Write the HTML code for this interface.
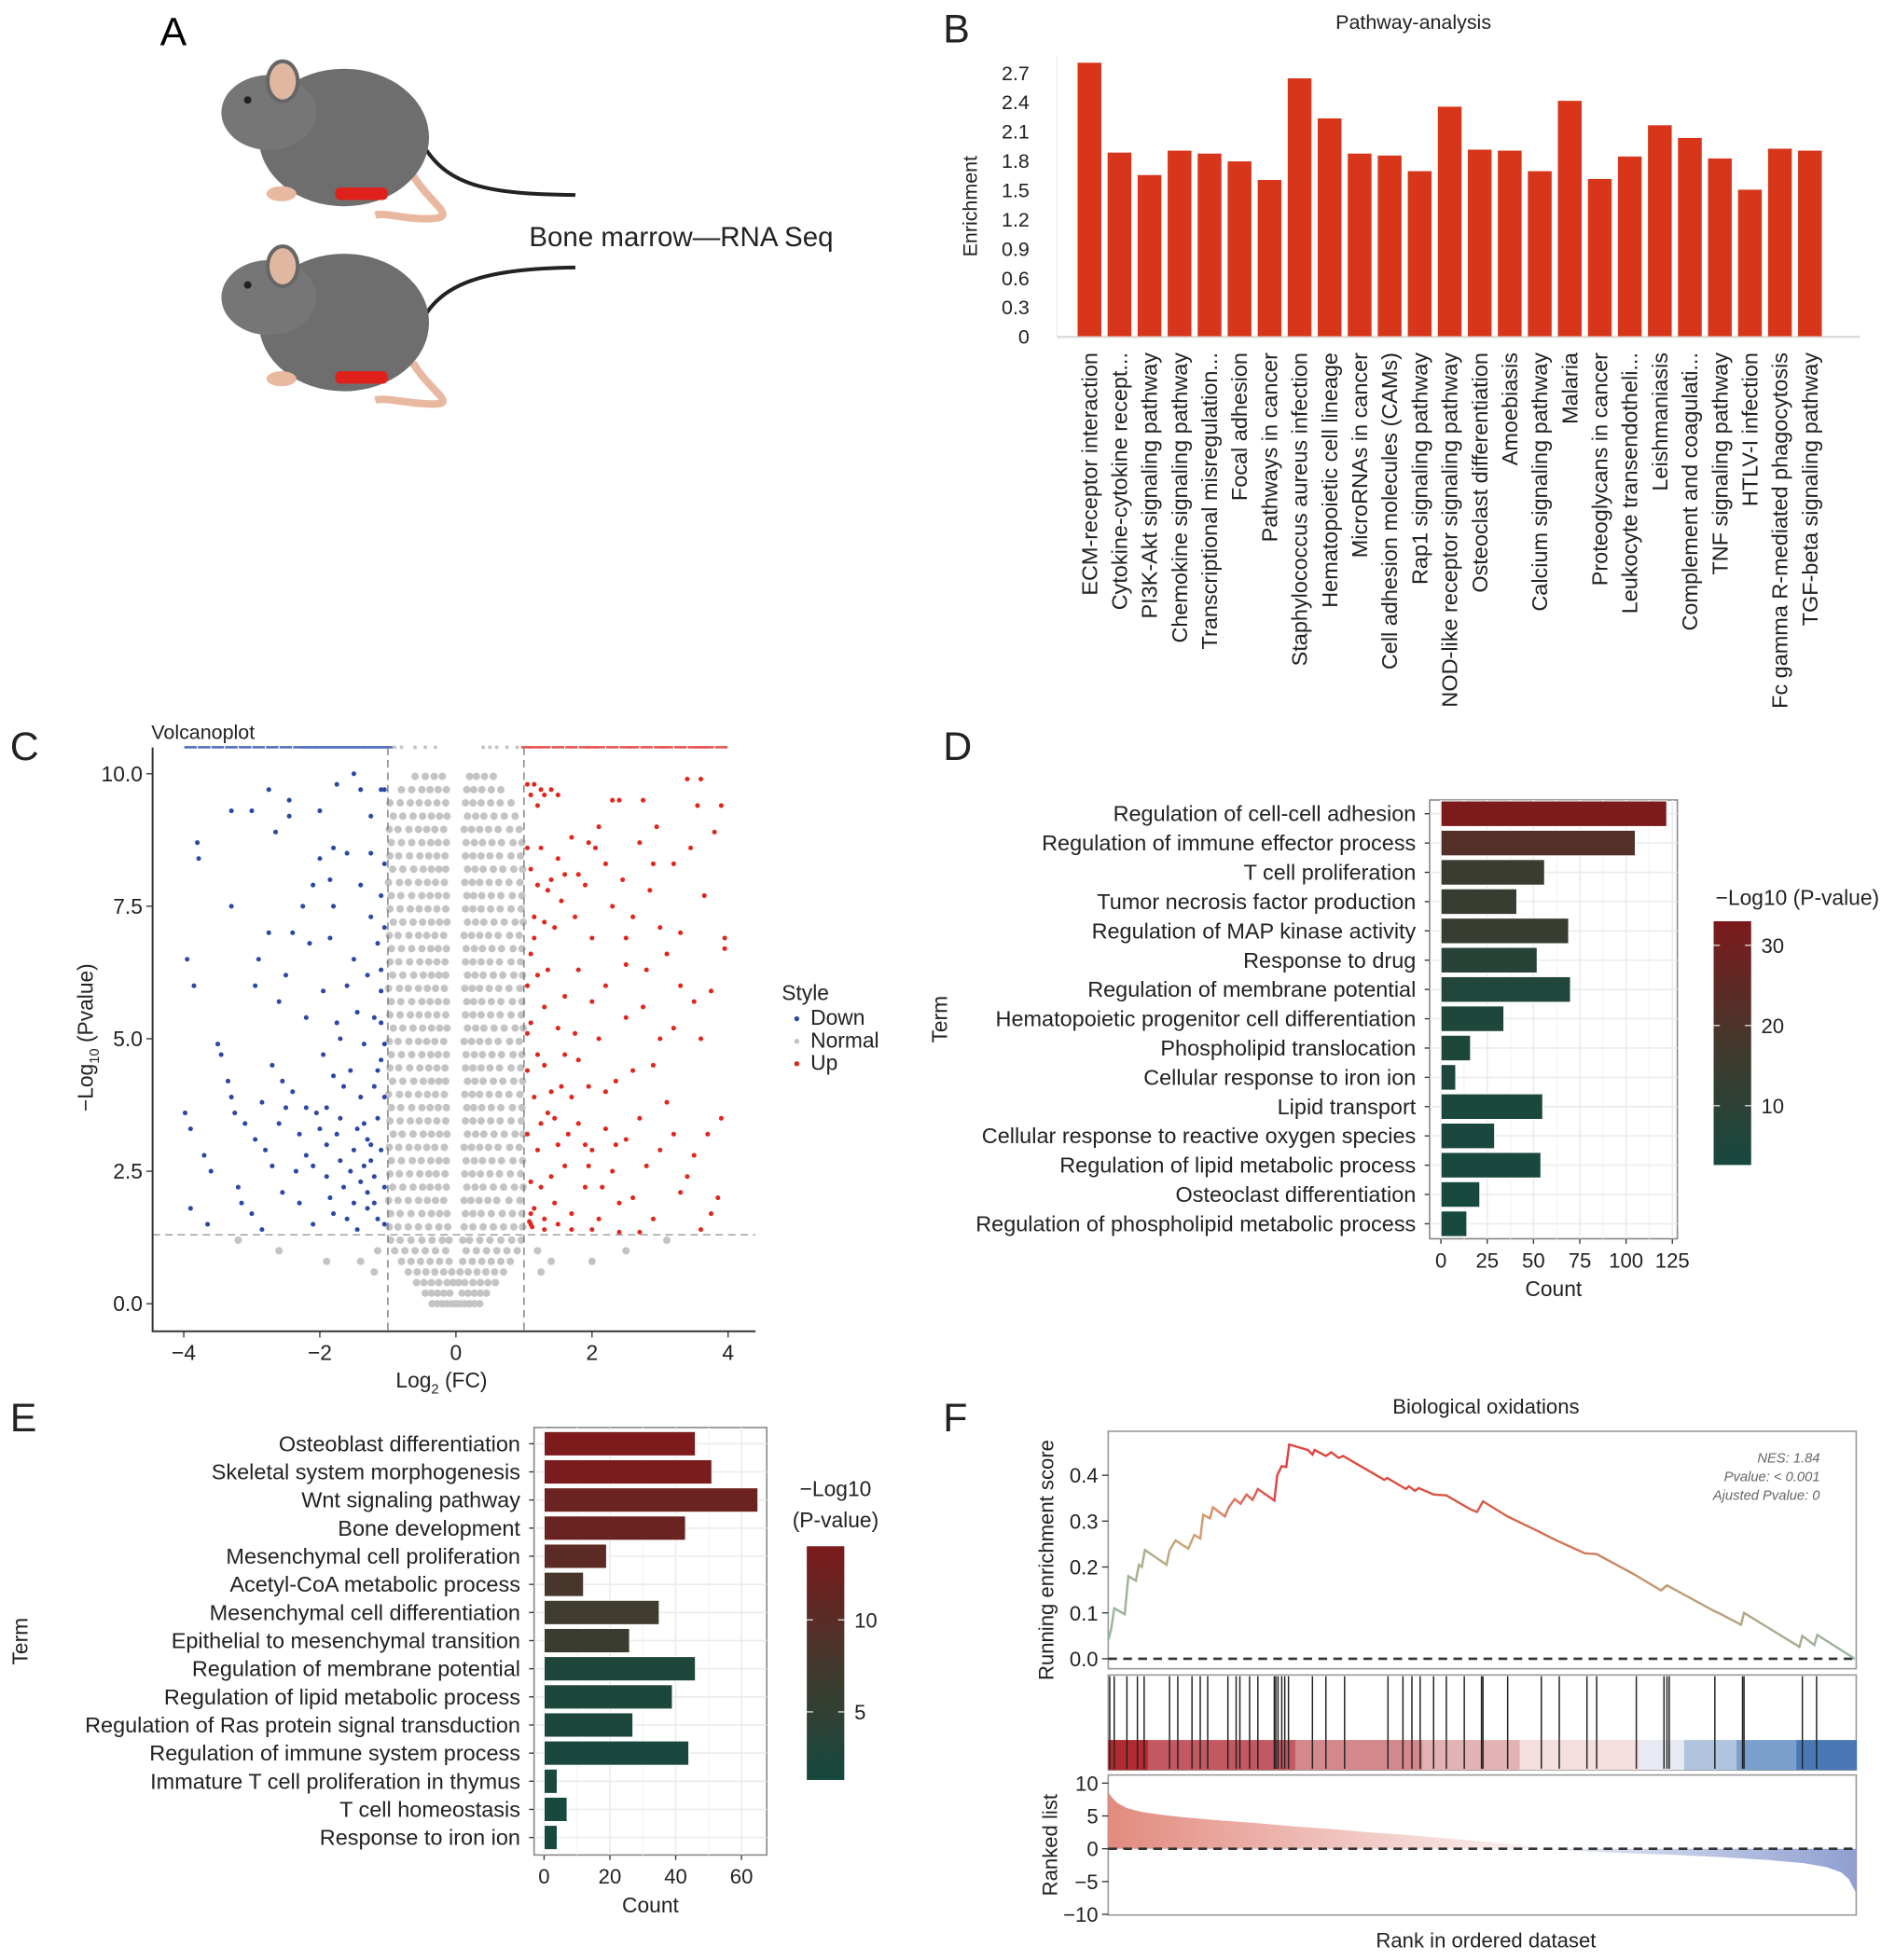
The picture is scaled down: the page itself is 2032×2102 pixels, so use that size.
<!DOCTYPE html>
<html><head><meta charset="utf-8"><style>
html,body{margin:0;padding:0;background:#fff;}
svg{display:block;font-family:"Liberation Sans",Arial,sans-serif;}
</style></head><body>
<svg id="fig" xmlns="http://www.w3.org/2000/svg" width="2032" height="2102" viewBox="0 0 1515 1568" preserveAspectRatio="none">
<defs>
<linearGradient id="cbD" x1="0" y1="1" x2="0" y2="0"><stop offset="0" stop-color="#17493f"/><stop offset="0.45" stop-color="#3f3b2e"/><stop offset="1" stop-color="#7c1a1c"/></linearGradient>
<linearGradient id="cbE" x1="0" y1="1" x2="0" y2="0"><stop offset="0" stop-color="#17493f"/><stop offset="0.45" stop-color="#3f3b2e"/><stop offset="1" stop-color="#7c1a1c"/></linearGradient>
<linearGradient id="esGrad" x1="886" y1="0" x2="1484" y2="0" gradientUnits="userSpaceOnUse"><stop offset="0" stop-color="#8fb89a"/><stop offset="0.12" stop-color="#d1a070"/><stop offset="0.23" stop-color="#e04040"/><stop offset="0.5" stop-color="#d65a45"/><stop offset="0.75" stop-color="#c49a70"/><stop offset="1" stop-color="#95b8a0"/></linearGradient>
<linearGradient id="rankRed" x1="886" y1="0" x2="1210" y2="0" gradientUnits="userSpaceOnUse"><stop offset="0" stop-color="#e28a7e"/><stop offset="1" stop-color="#fbeeee"/></linearGradient>
<linearGradient id="rankBlue" x1="1210" y1="0" x2="1484" y2="0" gradientUnits="userSpaceOnUse"><stop offset="0" stop-color="#f4f5fb"/><stop offset="1" stop-color="#8f9fd0"/></linearGradient>
</defs>

<!-- Panel A -->
<g>
<text x="128" y="36" font-size="32">A</text>
<g>
<path d="M335,110 C355,150 390,155 460,156" fill="none" stroke="#222" stroke-width="3"/>
<path d="M330,140 C345,165 370,175 340,175 C320,175 310,170 300,172" fill="none" stroke="#e8b9a0" stroke-width="6"/>
<ellipse cx="275" cy="110" rx="68" ry="55" fill="#6e6e6e"/>
<ellipse cx="215" cy="90" rx="38" ry="30" fill="#767676"/>
<path d="M180,92 L205,70 L215,100 Z" fill="#767676"/>
<ellipse cx="226" cy="65" rx="12" ry="16" fill="#e0b7a0" stroke="#666" stroke-width="3"/>
<circle cx="198" cy="80" r="3" fill="#222"/>
<rect x="268" y="150" width="42" height="10" rx="4" fill="#e0201a"/>
<ellipse cx="225" cy="155" rx="12" ry="6" fill="#e8b9a0"/>
</g>
<g>
<path d="M335,262 C350,225 390,215 460,214" fill="none" stroke="#222" stroke-width="3"/>
<path d="M330,290 C345,315 370,325 340,323 C320,322 310,318 300,320" fill="none" stroke="#e8b9a0" stroke-width="6"/>
<ellipse cx="275" cy="258" rx="68" ry="55" fill="#6e6e6e"/>
<ellipse cx="215" cy="238" rx="38" ry="30" fill="#767676"/>
<path d="M180,240 L205,218 L215,248 Z" fill="#767676"/>
<ellipse cx="226" cy="213" rx="12" ry="16" fill="#e0b7a0" stroke="#666" stroke-width="3"/>
<circle cx="198" cy="228" r="3" fill="#222"/>
<rect x="268" y="297" width="42" height="10" rx="4" fill="#e0201a"/>
<ellipse cx="225" cy="303" rx="12" ry="6" fill="#e8b9a0"/>
</g>
<text x="423" y="197" font-size="22" fill="#222">Bone marrow—RNA Seq</text>
</g>

<g id="pB"></g>
<g id="pC"></g>
<g id="pD"></g>
<g id="pE"></g>
<g id="pF"></g>
</svg>
<script>
// ===== Panel B data =====
const bCategories = ["ECM-receptor interaction","Cytokine-cytokine recept...","PI3K-Akt signaling pathway","Chemokine signaling pathway","Transcriptional misregulation...","Focal adhesion","Pathways in cancer","Staphylococcus aureus infection","Hematopoietic cell lineage","MicroRNAs in cancer","Cell adhesion molecules (CAMs)","Rap1 signaling pathway","NOD-like receptor signaling pathway","Osteoclast differentiation","Amoebiasis","Calcium signaling pathway","Malaria","Proteoglycans in cancer","Leukocyte transendotheli...","Leishmaniasis","Complement and coagulati...","TNF signaling pathway","HTLV-I infection","Fc gamma R-mediated phagocytosis","TGF-beta signaling pathway"];
const bValues = [2.8,1.88,1.65,1.9,1.87,1.79,1.6,2.64,2.23,1.87,1.85,1.69,2.35,1.91,1.9,1.69,2.41,1.61,1.84,2.16,2.03,1.82,1.5,1.92,1.9];
const bTicks = [0,0.3,0.6,0.9,1.2,1.5,1.8,2.1,2.4,2.7];

// ===== Panel C data =====
const cXTicks = [-4,-2,0,2,4];
const cYTicks = [0,2.5,5,7.5,10];
const downPts = [[-3.95,6.5],[-3.85,6],[-3.8,8.7],[-3.78,8.4],[-3.98,3.6],[-3.9,3.3],[-3.9,1.8],[-3.7,2.8],[-3.65,1.5],[-3.6,2.5],[-3.5,4.9],[-3.45,4.7],[-3.35,4.2],[-3.3,3.9],[-3.3,9.3],[-3.3,7.5],[-3.25,3.6],[-3.2,2.2],[-3.15,1.9],[-3.1,3.4],[-3.0,9.3],[-2.95,6.0],[-2.95,3.1],[-3.0,1.7],[-2.9,6.5],[-2.85,3.8],[-2.85,1.4],[-2.8,2.9],[-2.75,7.0],[-2.75,9.7],[-2.7,4.5],[-2.7,2.6],[-2.65,8.9],[-2.6,5.7],[-2.6,3.4],[-2.55,4.2],[-2.55,2.1],[-2.5,6.2],[-2.5,3.7],[-2.45,9.5],[-2.45,9.2],[-2.4,7.0],[-2.4,4.0],[-2.35,2.5],[-2.3,1.9],[-2.3,3.2],[-2.25,7.5],[-2.2,5.4],[-2.2,3.7],[-2.2,2.8],[-2.15,6.8],[-2.1,7.9],[-2.1,1.5],[-2.05,3.6],[-2.0,8.4],[-2.0,9.3],[-1.95,5.9],[-1.95,4.7],[-1.9,3.0],[-1.9,2.4],[-1.85,8.0],[-1.85,6.9],[-1.8,8.6],[-1.8,7.5],[-1.8,4.3],[-1.8,1.7],[-1.75,9.8],[-1.7,5.0],[-1.7,3.5],[-1.65,2.2],[-1.6,6.0],[-1.6,8.5],[-1.55,4.4],[-1.5,10.0],[-1.5,6.5],[-1.5,2.9],[-1.45,5.5],[-1.45,1.4],[-1.4,7.9],[-1.4,3.9],[-1.4,9.7],[-1.35,4.9],[-1.35,2.6],[-1.3,6.2],[-1.3,3.1],[-1.3,1.8],[-1.25,9.2],[-1.25,8.5],[-1.25,7.3],[-1.2,5.4],[-1.2,4.1],[-1.2,2.4],[-1.15,6.8],[-1.15,3.5],[-1.15,1.6],[-1.1,9.7],[-1.1,7.7],[-1.1,6.3],[-1.1,5.3],[-1.1,4.6],[-1.1,2.9],[-1.05,8.3],[-1.05,7.1],[-1.05,3.9],[-1.05,2.2],[-1.05,1.5],[-1.2,1.9],[-1.3,2.1],[-1.4,2.3],[-1.5,1.9],[-1.6,1.6],[-1.7,2.7],[-1.75,3.2],[-1.9,3.7],[-2.0,3.3],[-2.1,2.6],[-1.35,3.4],[-1.25,3.0],[-1.05,9.7],[-1.1,5.9],[-1.05,4.9],[-1.15,4.4],[-1.25,2.7],[-1.45,3.3],[-1.55,2.5],[-1.65,4.1],[-1.75,5.3],[-1.85,2.0]];
const upPts = [[1.05,9.8],[1.1,9.6],[1.15,9.8],[1.2,9.4],[1.25,9.7],[1.3,9.6],[1.4,9.7],[1.5,9.6],[1.05,8.6],[1.1,8.2],[1.15,7.3],[1.2,7.9],[1.25,8.6],[1.3,7.2],[1.35,7.8],[1.4,8.0],[1.45,7.1],[1.5,8.4],[1.55,7.6],[1.6,8.1],[1.7,8.8],[1.75,7.3],[1.8,8.1],[1.9,7.9],[1.95,8.7],[2.0,6.9],[2.05,8.6],[2.1,9.0],[2.2,8.3],[2.3,7.5],[2.3,9.5],[2.4,9.5],[2.45,8.0],[2.5,6.9],[2.6,7.3],[2.7,8.7],[2.75,9.5],[2.85,7.8],[2.9,8.3],[2.95,9.0],[3.0,7.1],[3.1,6.6],[3.2,8.3],[3.3,7.0],[3.4,9.9],[3.45,8.6],[3.55,9.4],[3.6,9.9],[3.65,7.7],[3.8,8.9],[3.9,9.4],[3.95,6.7],[3.95,6.9],[3.75,5.9],[3.5,5.7],[3.3,6.0],[3.2,5.2],[3.0,5.0],[2.9,4.5],[2.75,5.6],[2.6,4.4],[2.5,5.4],[2.35,4.2],[2.2,4.0],[2.1,5.0],[2.0,5.7],[1.95,4.1],[1.8,4.6],[1.7,3.9],[1.6,4.7],[1.5,5.2],[1.4,4.0],[1.3,5.6],[1.2,4.7],[1.1,5.3],[1.05,6.0],[1.1,6.6],[1.2,6.2],[1.35,6.3],[1.6,5.8],[1.8,6.3],[2.2,6.0],[2.5,6.4],[2.8,6.3],[3.6,5.0],[3.7,3.2],[3.9,3.5],[3.85,2.0],[3.75,1.7],[3.6,1.4],[3.5,2.8],[3.4,2.4],[3.3,2.1],[3.2,3.2],[3.1,3.8],[3.0,2.9],[2.9,1.6],[2.8,2.6],[2.7,3.5],[2.6,2.0],[2.5,3.1],[2.4,1.9],[2.3,2.5],[2.2,3.3],[2.1,1.6],[2.0,2.9],[1.9,2.2],[1.8,3.4],[1.7,1.7],[1.6,2.6],[1.5,3.0],[1.45,1.9],[1.4,2.4],[1.35,3.6],[1.3,1.6],[1.25,2.2],[1.2,2.9],[1.15,1.8],[1.1,1.5],[1.1,2.3],[1.05,3.2],[1.05,4.4],[1.15,3.9],[1.25,3.4],[1.1,1.7],[1.08,1.55],[1.12,1.45],[1.3,1.4],[1.5,1.5],[1.7,1.4],[2.0,1.4],[2.4,1.35],[2.7,1.35],[1.95,2.6],[2.15,2.2],[2.35,3.0],[1.65,3.2],[1.05,5.1],[1.15,6.9],[1.3,4.5],[1.45,3.5],[1.55,4.1],[1.75,5.1],[1.9,3.0]];
const normalRows = [
[0,[-0.35,-0.27,-0.2,-0.13,-0.06,0,0.06,0.13,0.2,0.27,0.35]],
[0.2,[-0.45,-0.36,-0.27,-0.18,-0.09,0.09,0.18,0.27,0.36,0.45]],
[0.4,[-0.58,-0.47,-0.36,-0.25,-0.13,-0.04,0.04,0.13,0.25,0.36,0.47,0.58]],
[0.6,[-0.7,-0.57,-0.44,-0.31,-0.18,-0.06,0.06,0.18,0.31,0.44,0.57,0.7,-1.2,1.25]],
[0.8,[-0.8,-0.66,-0.52,-0.38,-0.24,-0.1,0.1,0.24,0.38,0.52,0.66,0.8,-1.4,-1.9,1.4,2.0]],
[1.0,[-0.9,-0.75,-0.6,-0.45,-0.3,-0.15,0.15,0.3,0.45,0.6,0.75,0.9,-1.15,-2.6,1.2,2.5]],
[1.2,[-0.96,-0.82,-0.66,-0.5,-0.35,-0.2,-0.1,0.1,0.2,0.35,0.5,0.66,0.82,0.96,-3.2,3.1]],
[1.45,[-0.98,-0.85,-0.7,-0.55,-0.4,-0.25,-0.12,0.12,0.25,0.4,0.55,0.7,0.85,0.98]],
[1.7,[-0.96,-0.82,-0.66,-0.5,-0.36,-0.24,-0.13,0.14,0.25,0.37,0.52,0.68,0.83,0.97]],
[1.95,[-0.99,-0.85,-0.7,-0.55,-0.42,-0.3,-0.18,0.12,0.22,0.34,0.47,0.6,0.78,0.94]],
[2.2,[-0.93,-0.78,-0.63,-0.49,-0.38,-0.26,-0.14,0.16,0.28,0.4,0.55,0.7,0.86,0.99]],
[2.45,[-0.97,-0.83,-0.68,-0.53,-0.4,-0.29,-0.16,0.13,0.24,0.36,0.5,0.64,0.8,0.95]],
[2.7,[-0.95,-0.8,-0.64,-0.51,-0.37,-0.25,-0.14,0.15,0.27,0.39,0.53,0.67,0.84,0.98]],
[2.95,[-0.98,-0.84,-0.69,-0.56,-0.43,-0.31,-0.17,0.12,0.23,0.35,0.48,0.62,0.79,0.93]],
[3.2,[-0.92,-0.79,-0.63,-0.48,-0.36,-0.24,-0.13,0.17,0.29,0.41,0.56,0.71,0.87,0.99]],
[3.45,[-0.97,-0.82,-0.67,-0.54,-0.41,-0.28,-0.15,0.14,0.25,0.37,0.51,0.65,0.81,0.96]],
[3.7,[-0.95,-0.81,-0.65,-0.5,-0.38,-0.26,-0.14,0.16,0.26,0.38,0.52,0.66,0.83,0.97]],
[3.95,[-0.99,-0.83,-0.7,-0.55,-0.42,-0.3,-0.17,0.13,0.24,0.35,0.49,0.63,0.78,0.94]],
[4.2,[-0.93,-0.78,-0.62,-0.48,-0.36,-0.25,-0.15,0.17,0.28,0.4,0.55,0.69,0.85,0.98]],
[4.45,[-0.97,-0.84,-0.68,-0.53,-0.4,-0.28,-0.16,0.14,0.25,0.37,0.5,0.64,0.81,0.95]],
[4.7,[-0.95,-0.8,-0.65,-0.5,-0.37,-0.26,-0.14,0.15,0.27,0.39,0.53,0.67,0.84,0.97]],
[4.95,[-0.98,-0.85,-0.69,-0.55,-0.43,-0.31,-0.18,0.12,0.23,0.35,0.48,0.62,0.79,0.93]],
[5.2,[-0.92,-0.78,-0.63,-0.49,-0.36,-0.24,-0.13,0.17,0.29,0.41,0.56,0.71,0.87,0.99]],
[5.45,[-0.97,-0.82,-0.67,-0.54,-0.41,-0.28,-0.15,0.14,0.25,0.37,0.51,0.65,0.81,0.96]],
[5.7,[-0.95,-0.81,-0.65,-0.5,-0.38,-0.26,-0.14,0.16,0.26,0.38,0.52,0.66,0.83,0.97]],
[5.95,[-0.99,-0.83,-0.7,-0.55,-0.42,-0.3,-0.17,0.13,0.24,0.35,0.49,0.63,0.78,0.94]],
[6.2,[-0.93,-0.78,-0.62,-0.48,-0.36,-0.25,-0.15,0.17,0.28,0.4,0.55,0.69,0.85,0.98]],
[6.45,[-0.97,-0.84,-0.68,-0.53,-0.4,-0.28,-0.16,0.14,0.25,0.37,0.5,0.64,0.81,0.95]],
[6.7,[-0.95,-0.8,-0.65,-0.5,-0.37,-0.26,-0.14,0.15,0.27,0.39,0.53,0.67,0.84,0.97]],
[6.95,[-0.98,-0.85,-0.69,-0.55,-0.43,-0.31,-0.18,0.12,0.23,0.35,0.48,0.62,0.79,0.93]],
[7.2,[-0.92,-0.78,-0.63,-0.49,-0.36,-0.24,-0.13,0.17,0.29,0.41,0.56,0.71,0.87,0.99]],
[7.45,[-0.97,-0.82,-0.67,-0.54,-0.41,-0.28,-0.15,0.14,0.25,0.37,0.51,0.65,0.81,0.96]],
[7.7,[-0.95,-0.81,-0.65,-0.5,-0.38,-0.26,-0.14,0.16,0.26,0.38,0.52,0.66,0.83,0.97]],
[7.95,[-0.99,-0.83,-0.7,-0.55,-0.42,-0.3,-0.17,0.13,0.24,0.35,0.49,0.63,0.78,0.94]],
[8.2,[-0.93,-0.78,-0.62,-0.48,-0.36,-0.25,-0.15,0.17,0.28,0.4,0.55,0.69,0.85,0.98]],
[8.45,[-0.97,-0.84,-0.68,-0.53,-0.4,-0.28,-0.16,0.14,0.25,0.37,0.5,0.64,0.81,0.95]],
[8.7,[-0.95,-0.8,-0.65,-0.5,-0.37,-0.26,-0.14,0.15,0.27,0.39,0.53,0.67,0.84,0.97]],
[8.95,[-0.98,-0.85,-0.69,-0.55,-0.43,-0.31,-0.18,0.12,0.23,0.35,0.48,0.62,0.79,0.93]],
[9.2,[-0.92,-0.78,-0.63,-0.49,-0.36,-0.24,-0.13,0.17,0.29,0.41,0.56,0.71,0.87]],
[9.45,[-0.97,-0.82,-0.67,-0.54,-0.41,-0.28,-0.15,0.14,0.25,0.37,0.51,0.65,0.81]],
[9.7,[-0.8,-0.65,-0.5,-0.38,-0.26,-0.14,0.16,0.26,0.38,0.52,0.66]],
[9.95,[-0.6,-0.45,-0.32,-0.2,0.2,0.3,0.42,0.55]]
];
const capDownX = [-3.9,-3.7,-3.5,-3.3,-3.1,-2.9,-2.7,-2.5,-2.3,-2.2,-2.1,-2.0,-1.9,-1.8,-1.7,-1.6,-1.5,-1.4,-1.3,-1.2,-1.1,-1.02];
const capNormalX = [-0.9,-0.8,-0.6,-0.45,-0.3,0.4,0.5,0.6,0.75,0.9];
const capUpX = [1.05,1.15,1.3,1.5,1.7,1.9,2.0,2.1,2.3,2.5,2.6,2.8,3.0,3.1,3.3,3.5,3.6,3.7,3.9];

// ===== Panel D data =====
const dTerms = ["Regulation of cell-cell adhesion","Regulation of immune effector process","T cell proliferation","Tumor necrosis factor production","Regulation of MAP kinase activity","Response to drug","Regulation of membrane potential","Hematopoietic progenitor cell differentiation","Phospholipid translocation","Cellular response to iron ion","Lipid transport","Cellular response to reactive oxygen species","Regulation of lipid metabolic process","Osteoclast differentiation","Regulation of phospholipid metabolic process"];
const dCounts = [122,105,56,41,69,52,70,34,16,8,55,29,54,21,14];
const dPvals = [33,22,15,14,13.5,8,6,5.5,5,4.5,4,3.5,3.2,3,2.6];
const dXTicks = [0,25,50,75,100,125];
const dCbTicks = [10,20,30];

// ===== Panel E data =====
const eTerms = ["Osteoblast differentiation","Skeletal system morphogenesis","Wnt signaling pathway","Bone development","Mesenchymal cell proliferation","Acetyl-CoA metabolic process","Mesenchymal cell differentiation","Epithelial to mesenchymal transition","Regulation of membrane potential","Regulation of lipid metabolic process","Regulation of Ras protein signal transduction","Regulation of immune system process","Immature T cell proliferation in thymus","T cell homeostasis","Response to iron ion"];
const eCounts = [46,51,65,43,19,12,35,26,46,39,27,44,4,7,4];
const ePvals = [14,13.8,12,11.8,10.5,8,7,6.5,2.5,2.3,2,1.8,1.6,1.4,1.3];
const eXTicks = [0,20,40,60];
const eCbTicks = [5,10];

// ===== Panel F data =====
const esFrac = [0,0.004,0.008,0.022,0.027,0.037,0.041,0.045,0.049,0.078,0.082,0.090,0.107,0.115,0.123,0.127,0.136,0.140,0.156,0.161,0.169,0.177,0.185,0.193,0.200,0.222,0.226,0.232,0.238,0.242,0.267,0.273,0.276,0.291,0.298,0.308,0.314,0.369,0.373,0.398,0.402,0.410,0.415,0.435,0.452,0.484,0.493,0.501,0.534,0.575,0.599,0.637,0.653,0.702,0.739,0.747,0.809,0.817,0.846,0.850,0.924,0.928,0.944,0.948,0.998];
const esVals = [0.04,0.065,0.11,0.097,0.18,0.17,0.205,0.2,0.237,0.205,0.236,0.258,0.24,0.27,0.262,0.314,0.306,0.33,0.31,0.33,0.348,0.338,0.358,0.346,0.37,0.345,0.4,0.42,0.418,0.467,0.455,0.445,0.455,0.442,0.45,0.438,0.442,0.39,0.394,0.37,0.376,0.366,0.372,0.358,0.356,0.326,0.32,0.343,0.31,0.278,0.258,0.23,0.228,0.185,0.149,0.16,0.105,0.099,0.074,0.1,0.026,0.05,0.03,0.052,0.0];
const hitFrac = [0.002,0.008,0.025,0.039,0.048,0.082,0.093,0.112,0.123,0.133,0.16,0.171,0.176,0.189,0.2,0.222,0.224,0.227,0.232,0.236,0.241,0.273,0.291,0.316,0.374,0.394,0.406,0.417,0.435,0.452,0.476,0.499,0.501,0.534,0.579,0.603,0.64,0.653,0.706,0.743,0.747,0.75,0.811,0.848,0.85,0.928,0.947];
const bandStart = [0,0.053,0.25,0.42,0.55,0.71,0.77,0.84,0.92];
const bandColor = ["#b42a31","#c45860","#d3898c","#e2b2b4","#f4dede","#e7e9f3","#b0c4df","#7b9fcd","#4a78b6"];
const rankFrac = [0,0.005,0.012,0.025,0.045,0.07,0.1,0.15,0.2,0.25,0.3,0.35,0.4,0.45,0.5,0.55,0.58,0.62,0.68,0.75,0.82,0.88,0.93,0.96,0.98,0.99,1];
const rankVals = [8.6,7.8,7.0,6.2,5.6,5.2,4.8,4.3,3.9,3.4,3.0,2.5,2.1,1.6,1.1,0.6,0,-0.3,-0.6,-0.9,-1.3,-1.7,-2.2,-2.8,-3.6,-4.6,-6.8];
const fEsTicks = [0,0.1,0.2,0.3,0.4];
const fRankTicks = [-10,-5,0,5,10];

// ===== helpers =====
const NS = "http://www.w3.org/2000/svg";
function mk(parent, tag, attrs, name, inter) {
  const el = document.createElementNS(NS, tag);
  for (const k in attrs) el.setAttribute(k, attrs[k]);
  
  
  parent.appendChild(el);
  return el;
}
function txt(parent, x, y, s, size, anchor, name, extra) {
  const a = Object.assign({x: x, y: y, 'font-size': size, 'text-anchor': anchor || 'start', fill: '#222'}, extra || {});
  const t = mk(parent, 'text', a, name, false);
  t.textContent = s;
  return t;
}
function lerpColor(c1, c2, t) {
  const p = c => [parseInt(c.slice(1,3),16), parseInt(c.slice(3,5),16), parseInt(c.slice(5,7),16)];
  const a = p(c1), b = p(c2);
  return 'rgb(' + a.map((v,i) => Math.round(v + (b[i]-v)*t)).join(',') + ')';
}
function pvalColor(v, lo, hi) {
  const t = Math.max(0, Math.min(1, (v-lo)/(hi-lo)));
  return t < 0.45 ? lerpColor('#17493f', '#3f3b2e', t/0.45) : lerpColor('#3f3b2e', '#7c1a1c', (t-0.45)/0.55);
}

// ===== Panel B =====
(function(){
  const g = document.getElementById('pB');
  const bx = i => 871 + i*24;
  const by = v => 269 - v*(211/2.7);
  txt(g, 754, 34, 'B', 32, 'start', 'panel-b-label');
  txt(g, 1130, 23, 'Pathway-analysis', 16, 'middle', 'chart-title');
  mk(g, 'line', {x1: 845, y1: 269.5, x2: 1487, y2: 269.5, stroke: '#ddd', 'stroke-width': 2}, 'x-axis-line', false);
  mk(g, 'line', {x1: 845, y1: 45, x2: 845, y2: 269, stroke: '#eee', 'stroke-width': 1}, 'y-axis-line', false);
  bTicks.forEach(t => txt(g, 823, by(t)+6, String(t), 16, 'end', 'y-tick-label'));
  txt(g, 0, 0, 'Enrichment', 16, 'middle', 'y-axis-title', {transform: 'translate(781,165) rotate(-90)'});
  bValues.forEach((v, i) => {
    mk(g, 'rect', {x: bx(i)-9.5, y: by(v), width: 19, height: by(0)-by(v), fill: '#d7361a'}, 'bar-' + i, true);
  });
  bCategories.forEach((c, i) => {
    txt(g, 0, 0, c, 17.5, 'end', 'x-tick-label', {transform: 'translate(' + (bx(i)+6) + ',282) rotate(-90)'});
  });
})();

// ===== Panel C =====
(function(){
  const g = document.getElementById('pC');
  const cx = v => 364.5 + v*54.4;
  const cy = v => 1043 - v*42.4;
  txt(g, 8, 608, 'C', 32, 'start', 'panel-c-label');
  txt(g, 121, 591, 'Volcanoplot', 16, 'start', 'chart-title');
  normalRows.forEach(row => {
    row[1].forEach(x => mk(g, 'circle', {cx: cx(x), cy: cy(row[0]), r: 3.0, fill: '#c4c4c4'}, 'point-normal', false));
  });
  capNormalX.forEach(x => mk(g, 'circle', {cx: cx(x), cy: cy(10.5), r: 1.5, fill: '#c4c4c4'}, 'point-normal-capped', false));
  downPts.forEach(p => mk(g, 'circle', {cx: cx(p[0]), cy: cy(p[1]), r: 1.9, fill: '#2b48a6'}, 'point-down', false));
  capDownX.forEach(x => mk(g, 'line', {x1: cx(x)-5, x2: cx(x)+5, y1: cy(10.5), y2: cy(10.5), stroke: '#5672c0', 'stroke-width': 2}, 'point-down-capped', false));
  upPts.forEach(p => mk(g, 'circle', {cx: cx(p[0]), cy: cy(p[1]), r: 1.9, fill: '#e1261c'}, 'point-up', false));
  capUpX.forEach(x => mk(g, 'line', {x1: cx(x)-5, x2: cx(x)+5, y1: cy(10.5), y2: cy(10.5), stroke: '#e65a55', 'stroke-width': 2}, 'point-up-capped', false));
  mk(g, 'line', {x1: cx(-1), x2: cx(-1), y1: 598, y2: 1065, stroke: '#777', 'stroke-dasharray': '6,4'}, 'threshold-left', false);
  mk(g, 'line', {x1: cx(1), x2: cx(1), y1: 598, y2: 1065, stroke: '#777', 'stroke-dasharray': '6,4'}, 'threshold-right', false);
  mk(g, 'line', {x1: 122, x2: 604, y1: cy(1.3), y2: cy(1.3), stroke: '#999', 'stroke-dasharray': '6,4'}, 'threshold-p', false);
  mk(g, 'path', {d: 'M122,598 V1065 H604', fill: 'none', stroke: '#333', 'stroke-width': 1.5}, 'axes', false);
  cYTicks.forEach(t => {
    mk(g, 'line', {x1: 117, x2: 122, y1: cy(t), y2: cy(t), stroke: '#333'}, 'y-tick', false);
    txt(g, 114, cy(t)+6, t.toFixed(1), 17, 'end', 'y-tick-label');
  });
  cXTicks.forEach(t => {
    mk(g, 'line', {x1: cx(t), x2: cx(t), y1: 1065, y2: 1070, stroke: '#333'}, 'x-tick', false);
    txt(g, cx(t), 1088, t < 0 ? '\u2212' + Math.abs(t) : String(t), 17, 'middle', 'x-tick-label');
  });
  const xt = txt(g, 353, 1110, 'Log', 17, 'middle', 'x-axis-title');
  xt.innerHTML = 'Log<tspan font-size="11" dy="5">2</tspan><tspan dy="-5"> (FC)</tspan>';
  const yt = txt(g, 0, 0, '', 17, 'middle', 'y-axis-title', {transform: 'translate(74,830) rotate(-90)'});
  yt.innerHTML = '\u2212Log<tspan font-size="11" dy="5">10</tspan><tspan dy="-5"> (Pvalue)</tspan>';
  txt(g, 625, 800, 'Style', 17, 'start', 'legend-title');
  const leg = [['Down','#2b48a6',820],['Normal','#c4c4c4',838],['Up','#e1261c',856]];
  leg.forEach(l => {
    mk(g, 'circle', {cx: 637, cy: l[2]-5, r: 2, fill: l[1]}, 'legend-marker', false);
    txt(g, 648, l[2], l[0], 17, 'start', 'legend-entry');
  });
})();

// ===== Horizontal bar panels (D, E) =====
function hbar(gid, terms, counts, pvals, ticks, cbTicks, o) {
  const g = document.getElementById(gid);
  const X = v => o.x0 + v*o.kx;
  const Y = i => o.y0 + i*o.dy;
  mk(g, 'rect', {x: o.bl, y: o.bt, width: o.br-o.bl, height: o.bb-o.bt, fill: '#fff', stroke: '#888', 'stroke-width': 1.2}, 'plot-panel', false);
  ticks.forEach((t, k) => {
    mk(g, 'line', {x1: X(t), x2: X(t), y1: o.bt, y2: o.bb, stroke: '#ebebeb', 'stroke-width': 1.2}, 'grid-major', false);
    if (k < ticks.length-1) mk(g, 'line', {x1: X((t+ticks[k+1])/2), x2: X((t+ticks[k+1])/2), y1: o.bt, y2: o.bb, stroke: '#f4f4f4'}, 'grid-minor', false);
  });
  terms.forEach((t, i) => {
    mk(g, 'line', {x1: o.bl, x2: o.br, y1: Y(i), y2: Y(i), stroke: '#ebebeb', 'stroke-width': 1.2}, 'grid-row', false);
  });
  counts.forEach((c, i) => {
    mk(g, 'rect', {x: X(0), y: Y(i)-o.bh/2, width: X(c)-X(0), height: o.bh, fill: pvalColor(pvals[i], o.cbLo, o.cbHi), stroke: '#fff', 'stroke-width': 0.8}, 'bar-' + i, true);
  });
  terms.forEach((t, i) => {
    mk(g, 'line', {x1: o.bl-4, x2: o.bl, y1: Y(i), y2: Y(i), stroke: '#333'}, 'y-tick', false);
    txt(g, o.bl-11, Y(i)+6, t, 17.5, 'end', 'y-tick-label');
  });
  ticks.forEach(t => {
    mk(g, 'line', {x1: X(t), x2: X(t), y1: o.bb, y2: o.bb+4, stroke: '#333'}, 'x-tick', false);
    txt(g, X(t), o.bb+23, String(t), 16.5, 'middle', 'x-tick-label');
  });
  txt(g, (o.bl+o.br)/2, o.bb+46, 'Count', 17, 'middle', 'x-axis-title');
  txt(g, 0, 0, 'Term', 17, 'middle', 'y-axis-title', {transform: 'translate(' + o.termX + ',' + ((o.bt+o.bb)/2) + ') rotate(-90)'});
  mk(g, 'rect', {x: o.cbx, y: o.cbt, width: 30, height: o.cbb-o.cbt, fill: 'url(#' + o.grad + ')'}, 'colorbar', false);
  const CY = v => o.cbb - (v-o.cbLo)/(o.cbHi-o.cbLo)*(o.cbb-o.cbt);
  cbTicks.forEach(t => {
    mk(g, 'line', {x1: o.cbx, x2: o.cbx+5, y1: CY(t), y2: CY(t), stroke: '#ddd'}, 'colorbar-tick', false);
    mk(g, 'line', {x1: o.cbx+25, x2: o.cbx+30, y1: CY(t), y2: CY(t), stroke: '#ddd'}, 'colorbar-tick', false);
    txt(g, o.cbx+38, CY(t)+6, String(t), 16.5, 'start', 'colorbar-label');
  });
  o.titles.forEach(tt => txt(g, tt[0], tt[1], tt[2], 17, 'middle', 'legend-title'));
}
txt(document.getElementById('pD'), 754, 608, 'D', 32, 'start', 'panel-d-label');
hbar('pD', dTerms, dCounts, dPvals, dXTicks, dCbTicks, {x0: 1152, kx: 1.48, y0: 651, dy: 23.43, bh: 20.5, bl: 1143, br: 1341, bt: 640, bb: 991, termX: 757, cbx: 1370, cbt: 737, cbb: 932, cbLo: 2.6, cbHi: 33, grad: 'cbD', titles: [[1437, 724, '\u2212Log10 (P-value)']]});
txt(document.getElementById('pE'), 8, 1145, 'E', 32, 'start', 'panel-e-label');
hbar('pE', eTerms, eCounts, ePvals, eXTicks, eCbTicks, {x0: 435, kx: 2.63, y0: 1155, dy: 22.5, bh: 19.5, bl: 427, br: 613, bt: 1142, bb: 1484, termX: 22, cbx: 645, cbt: 1237, cbb: 1424, cbLo: 1.3, cbHi: 14, grad: 'cbE', titles: [[668, 1197, '\u2212Log10'], [668, 1222, '(P-value)']]});

// ===== Panel F =====
(function(){
  const g = document.getElementById('pF');
  const fx = f => 886 + f*598;
  const fy = v => 1327 - v*367;
  const ry = v => 1479 - v*5.25;
  txt(g, 754, 1145, 'F', 32, 'start', 'panel-f-label');
  txt(g, 1188, 1131, 'Biological oxidations', 16.5, 'middle', 'chart-title');
  mk(g, 'rect', {x: 886, y: 1145, width: 598, height: 190, fill: '#fff', stroke: '#999', 'stroke-width': 1.2}, 'es-panel', false);
  mk(g, 'rect', {x: 886, y: 1340, width: 598, height: 76, fill: '#fff', stroke: '#999', 'stroke-width': 1.2}, 'hits-panel', false);
  mk(g, 'rect', {x: 886, y: 1420, width: 598, height: 112, fill: '#fff', stroke: '#999', 'stroke-width': 1.2}, 'rank-panel', false);
  bandStart.forEach((s, i) => {
    const e = i < bandStart.length-1 ? bandStart[i+1] : 1;
    mk(g, 'rect', {x: fx(s), y: 1392, width: fx(e)-fx(s)+0.5, height: 24, fill: bandColor[i]}, 'rank-color-band', false);
  });
  hitFrac.forEach(h => mk(g, 'line', {x1: fx(h), x2: fx(h), y1: 1341, y2: 1415, stroke: '#222', 'stroke-width': 1.1}, 'gene-hit', false));
  mk(g, 'line', {x1: 886, x2: 1484, y1: fy(0), y2: fy(0), stroke: '#333', 'stroke-width': 2, 'stroke-dasharray': '7,5'}, 'es-zero-line', false);
  let d = '';
  esFrac.forEach((f, i) => { d += (i ? 'L' : 'M') + fx(f).toFixed(1) + ',' + fy(esVals[i]).toFixed(1); });
  mk(g, 'path', {d: d, fill: 'none', stroke: 'url(#esGrad)', 'stroke-width': 1.8}, 'running-es-line', false);
  fEsTicks.forEach(t => {
    mk(g, 'line', {x1: 881, x2: 886, y1: fy(t), y2: fy(t), stroke: '#333'}, 'y-tick', false);
    txt(g, 878, fy(t)+6, t.toFixed(1), 16.5, 'end', 'y-tick-label');
  });
  const st = {fill: '#666', 'font-style': 'italic'};
  txt(g, 1455, 1170, 'NES: 1.84', 11, 'end', 'stat-nes', st);
  txt(g, 1455, 1185, 'Pvalue: < 0.001', 11, 'end', 'stat-pvalue', st);
  txt(g, 1455, 1200, 'Ajusted Pvalue: 0', 11, 'end', 'stat-adj-pvalue', st);
  txt(g, 0, 0, 'Running enrichment score', 16.5, 'middle', 'y-axis-title', {transform: 'translate(842,1248) rotate(-90)'});
  let pos = 'M' + fx(0) + ',' + ry(0), neg = '';
  rankFrac.forEach((f, i) => { if (rankVals[i] >= 0) pos += 'L' + fx(f).toFixed(1) + ',' + ry(rankVals[i]).toFixed(1); });
  pos += 'L' + fx(0.58) + ',' + ry(0) + 'Z';
  neg = 'M' + fx(0.58) + ',' + ry(0);
  rankFrac.forEach((f, i) => { if (rankVals[i] <= 0) neg += 'L' + fx(f).toFixed(1) + ',' + ry(rankVals[i]).toFixed(1); });
  neg += 'L' + fx(1) + ',' + ry(0) + 'Z';
  mk(g, 'path', {d: pos, fill: 'url(#rankRed)'}, 'ranked-positive-area', false);
  mk(g, 'path', {d: neg, fill: 'url(#rankBlue)'}, 'ranked-negative-area', false);
  mk(g, 'line', {x1: 886, x2: 1484, y1: ry(0), y2: ry(0), stroke: '#333', 'stroke-width': 2, 'stroke-dasharray': '7,5'}, 'rank-zero-line', false);
  fRankTicks.forEach(t => {
    mk(g, 'line', {x1: 881, x2: 886, y1: ry(t), y2: ry(t), stroke: '#333'}, 'y-tick', false);
    txt(g, 878, ry(t)+6, t < 0 ? '\u2212' + Math.abs(t) : String(t), 16.5, 'end', 'y-tick-label');
  });
  txt(g, 0, 0, 'Ranked list', 16.5, 'middle', 'y-axis-title', {transform: 'translate(845,1476) rotate(-90)'});
  txt(g, 1188, 1558, 'Rank in ordered dataset', 16.5, 'middle', 'x-axis-title');
})();
</script>
</body></html>
